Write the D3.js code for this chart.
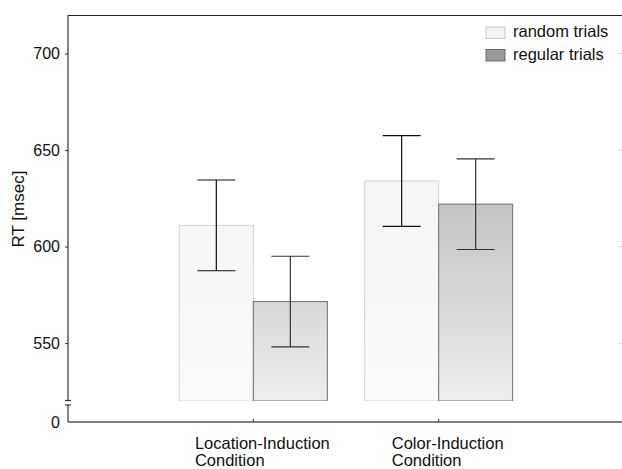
<!DOCTYPE html>
<html><head><meta charset="utf-8">
<script src="https://cdn.jsdelivr.net/npm/d3@7"></script>
<style>body{margin:0;background:#fff}svg{display:block;font-family:"Liberation Sans",Arial,sans-serif}</style>
</head><body><svg id="c" width="622" height="469"></svg>
<script>
const categories = ["Location-Induction Condition", "Color-Induction Condition"];
const series = ["random trials", "regular trials"];
const means = { "random trials": [611, 634], "regular trials": [571.5, 622] };
const errors = { "random trials": [23.5, 23.5], "regular trials": [23.5, 23.5] };
const yTicks = [550, 600, 650, 700];
const yBreakTicks = [0];

const svg = d3.select("#c");
const L = 68, R = 622, T = 15, B = 422, upperBottom = 401, lowerTop = 405;

const x = d3.scalePoint().domain(categories).range([L, 624]).padding(1);
const xs = d3.scaleBand().domain(series).range([-74, 74]);
const y = d3.scaleLinear().domain([520, 720]).range([upperBottom, T]);
const y0 = d3.scaleLinear().domain([0, 9]).range([B, lowerTop]);

const defs = svg.append("defs");
const g1 = defs.append("linearGradient").attr("id", "gReg").attr("gradientUnits", "userSpaceOnUse")
  .attr("x1", 0).attr("x2", 0).attr("y1", y(622)).attr("y2", upperBottom);
g1.append("stop").attr("offset", 0).attr("stop-color", "#c4c4c4");
g1.append("stop").attr("offset", 0.5).attr("stop-color", "#d7d9d9");
g1.append("stop").attr("offset", 1).attr("stop-color", "#eeeeee");
const g2 = defs.append("linearGradient").attr("id", "gRand").attr("gradientUnits", "userSpaceOnUse")
  .attr("x1", 0).attr("x2", 0).attr("y1", y(634)).attr("y2", upperBottom);
g2.append("stop").attr("offset", 0).attr("stop-color", "#f5f5f5");
g2.append("stop").attr("offset", 1).attr("stop-color", "#fbfbfb");

const fills = { "random trials": "url(#gRand)", "regular trials": "url(#gReg)" };
const strokes = { "random trials": "#d4d4d4", "regular trials": "#6e6e6e" };
const errCol = { "random trials": "#111", "regular trials": "#333" };

// bars
series.forEach(s => {
  svg.append("g").selectAll("rect").data(categories).join("rect")
    .attr("x", c => x(c) + xs(s))
    .attr("y", (c, i) => y(means[s][i]))
    .attr("width", xs.bandwidth())
    .attr("height", (c, i) => upperBottom - y(means[s][i]))
    .attr("fill", fills[s]).attr("stroke", strokes[s]).attr("stroke-width", 1);
});
// cover bottom stroke of bars
svg.append("rect").attr("x", L + 1).attr("y", upperBottom).attr("width", R - L - 2).attr("height", 3).attr("fill", "#fff");

// error bars
series.forEach(s => {
  const g = svg.append("g").attr("stroke", errCol[s]).attr("stroke-width", 1.2).attr("fill", "none");
  categories.forEach((c, i) => {
    const cx = x(c) + xs(s) + xs.bandwidth() / 2;
    const hi = y(means[s][i] + errors[s][i]), lo = y(means[s][i] - errors[s][i]);
    g.append("line").attr("x1", cx).attr("x2", cx).attr("y1", hi).attr("y2", lo);
    g.append("line").attr("x1", cx - 19).attr("x2", cx + 19).attr("y1", hi).attr("y2", hi);
    g.append("line").attr("x1", cx - 19).attr("x2", cx + 19).attr("y1", lo).attr("y2", lo);
  });
});

// top border
svg.append("line").attr("x1", L).attr("x2", R).attr("y1", T + 0.5).attr("y2", T + 0.5).attr("stroke", "#222").attr("stroke-width", 1.2);

// right faint ticks
svg.append("g").selectAll("line").data(yTicks).join("line")
  .attr("x1", R - 3).attr("x2", R).attr("y1", d => y(d)).attr("y2", d => y(d)).attr("stroke", "#ccc");

// left axis upper
const ya = svg.append("g").attr("transform", `translate(${L},0)`)
  .call(d3.axisLeft(y).tickValues(yTicks).tickSize(3).tickPadding(5).tickFormat(d3.format("d")));
ya.select(".domain").remove();
ya.selectAll("line").attr("stroke", "#333");
ya.selectAll("text").attr("font-size", 16).attr("fill", "#111").attr("font-family", "Liberation Sans, Arial, sans-serif");
svg.append("line").attr("x1", L).attr("x2", L).attr("y1", T).attr("y2", upperBottom - 0.5).attr("stroke", "#333").attr("stroke-width", 1.2);

// lower axis part
const ya0 = svg.append("g").attr("transform", `translate(${L},0)`)
  .call(d3.axisLeft(y0).tickValues(yBreakTicks).tickSize(0).tickPadding(8));
ya0.select(".domain").remove();
ya0.selectAll("text").attr("font-size", 16).attr("fill", "#111").attr("font-family", "Liberation Sans, Arial, sans-serif");
svg.append("line").attr("x1", L).attr("x2", L).attr("y1", lowerTop).attr("y2", B).attr("stroke", "#333").attr("stroke-width", 1.2);
// break marks
[upperBottom - 0.5, lowerTop].forEach(v => {
  svg.append("line").attr("x1", L - 3).attr("x2", L + 3).attr("y1", v).attr("y2", v).attr("stroke", "#333").attr("stroke-width", 1.2);
});

// bottom axis
svg.append("line").attr("x1", L).attr("x2", R).attr("y1", B).attr("y2", B).attr("stroke", "#555").attr("stroke-width", 1.3);
svg.append("g").selectAll("line").data(categories).join("line")
  .attr("x1", c => x(c)).attr("x2", c => x(c)).attr("y1", B - 3).attr("y2", B).attr("stroke", "#333");

// x labels (two separate lines)
categories.forEach(c => {
  const words = c.split(" ");
  const t1 = svg.append("text").attr("font-size", 16.5).attr("fill", "#111").attr("y", 449).text(words[0]);
  const w = t1.node().getComputedTextLength();
  const lx = x(c) + 9 - w / 2;
  t1.attr("x", lx);
  svg.append("text").attr("font-size", 16.5).attr("fill", "#111").attr("x", lx).attr("y", 466)
    .text(words.slice(1).join(" "));
});

// y label
svg.append("text").attr("transform", "translate(24,209) rotate(-90)").attr("text-anchor", "middle")
  .attr("font-size", 17).attr("fill", "#111").text("RT [msec]");

// legend
const legFill = { "random trials": "#f2f3f3", "regular trials": "#9a9a9a" };
const legStroke = { "random trials": "#c8c8c8", "regular trials": "#6a6a6a" };
const lg = svg.append("g");
series.forEach((s, i) => {
  lg.append("rect").attr("x", 486).attr("y", 27 + i * 22.5).attr("width", 19).attr("height", 11.5)
    .attr("fill", legFill[s]).attr("stroke", legStroke[s]);
  lg.append("text").attr("x", 513).attr("y", 37 + i * 22.5).attr("font-size", 16.5).attr("fill", "#111").text(s);
});
</script></body></html>
